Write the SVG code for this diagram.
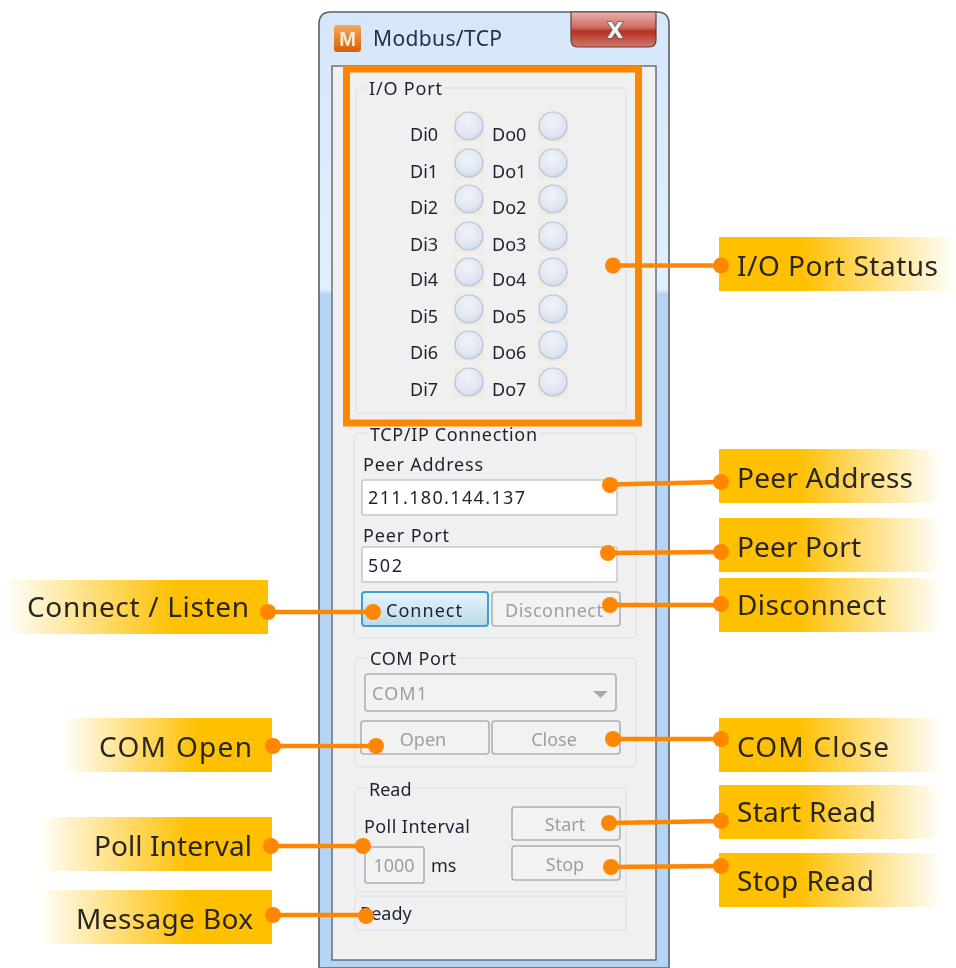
<svg xmlns="http://www.w3.org/2000/svg" width="956" height="968" viewBox="0 0 956 968">
<style>
.ui{font-family:"Noto Sans","Open Sans",sans-serif;font-size:18px;fill:#1c2233}
.dis{fill:#9a9ea6}
.mid{text-anchor:middle}
.tag{font-family:"Noto Sans","Open Sans",sans-serif;font-size:28px;fill:#2a2620}
.end{text-anchor:end}
.grp{fill:#f0f0f0;stroke:#dde5ec;stroke-width:1.5}
.inp{fill:#fff;stroke:#c4c6ca;stroke-width:1.5}
.btn{fill:#f2f2f2;stroke:#adb0b4;stroke-width:1.6}
.led{fill:url(#ledFill);stroke:#b4c2d8;stroke-width:1.2}
.bg{fill:#f0ecdf}
.wire{fill:none;stroke:#ff8605;stroke-width:4.5}
.dot{fill:#ff8605}
.lg{fill:#f0f0f0}
</style>
<defs>
<linearGradient id="chrome" x1="0" y1="0" x2="0" y2="1"><stop offset="0" stop-color="#d5e7fa"/><stop offset=".29" stop-color="#e2effc"/><stop offset=".295" stop-color="#b5d5f6"/><stop offset="1" stop-color="#b5d5f6"/></linearGradient>
<radialGradient id="ledFill" cx=".45" cy=".35" r=".7"><stop offset="0" stop-color="#f0f3f8"/><stop offset=".7" stop-color="#dfe6f2"/><stop offset="1" stop-color="#c6d3e8"/></radialGradient>
<linearGradient id="tagR" x1="0" y1="0" x2="1" y2="0"><stop offset="0" stop-color="#ffc000"/><stop offset=".35" stop-color="#ffc000"/><stop offset="1" stop-color="#ffc000" stop-opacity="0"/></linearGradient>
<linearGradient id="tagL" x1="1" y1="0" x2="0" y2="0"><stop offset="0" stop-color="#ffc000"/><stop offset=".35" stop-color="#ffc000"/><stop offset="1" stop-color="#ffc000" stop-opacity="0"/></linearGradient>
<linearGradient id="closeFill" x1="0" y1="0" x2="0" y2="1"><stop offset="0" stop-color="#e6b3ad"/><stop offset=".45" stop-color="#cf6a60"/><stop offset=".55" stop-color="#b62f22"/><stop offset="1" stop-color="#d07a6c"/></linearGradient>
<linearGradient id="iconFill" x1="0" y1="0" x2="0" y2="1"><stop offset="0" stop-color="#f7a85a"/><stop offset="1" stop-color="#d95c05"/></linearGradient>
<linearGradient id="connFill" x1="0" y1="0" x2="0" y2="1"><stop offset="0" stop-color="#e6f5fc"/><stop offset="1" stop-color="#bcd9e8"/></linearGradient>
<filter id="soft" x="-2%" y="-2%" width="104%" height="104%"><feGaussianBlur stdDeviation="0.45"/></filter>
</defs>
<rect width="956" height="968" fill="#fff"/>
<g filter="url(#soft)">
<g id="window">
<path d="M319 968V24Q319 12 331 12H657Q669 12 669 24V968Z" fill="url(#chrome)" stroke="#5c6066" stroke-width="1.6"/>
<rect x="332" y="66" width="324" height="894" fill="#f0f0f0" stroke="#5f6770" stroke-width="1.4"/>
<path d="M571 12V40Q571 47 578 47H649Q656 47 656 40V12Z" fill="url(#closeFill)" stroke="#6d3a36" stroke-width="1.2"/>
<text x="615" y="38" font-family="'DejaVu Sans',sans-serif" font-size="21" font-weight="700" fill="#f4f4f4" stroke="#5e5e5e" stroke-width="1.4" paint-order="stroke" text-anchor="middle">X</text>
<rect x="334" y="25" width="27" height="27" rx="3" fill="url(#iconFill)"/>
<text x="347.500" y="46" font-family="'Liberation Sans',sans-serif" font-size="20" font-weight="700" fill="#fde9d2" text-anchor="middle">M</text>
<text x="373" y="46" font-family="'Noto Sans',sans-serif" font-size="21" fill="#24304a" textLength="129">Modbus/TCP</text>
</g>
<g id="io-port">
<rect class="grp" x="356" y="88" width="270" height="325" rx="4"/>
<rect class="lg" x="366" y="80" width="78" height="16"/>
<text class="ui" x="369" y="95" textLength="73">I/O Port</text>
<g id="leds">
<rect class="bg" x="454" y="112" width="30" height="30"/><circle class="led" cx="469" cy="126" r="14"/>
<rect class="bg" x="538" y="112" width="30" height="30"/><circle class="led" cx="553" cy="126" r="14"/>
<rect class="bg" x="454" y="149" width="30" height="30"/><circle class="led" cx="469" cy="163" r="14"/>
<rect class="bg" x="538" y="149" width="30" height="30"/><circle class="led" cx="553" cy="163" r="14"/>
<rect class="bg" x="454" y="185" width="30" height="30"/><circle class="led" cx="469" cy="199" r="14"/>
<rect class="bg" x="538" y="185" width="30" height="30"/><circle class="led" cx="553" cy="199" r="14"/>
<rect class="bg" x="454" y="222" width="30" height="30"/><circle class="led" cx="469" cy="236" r="14"/>
<rect class="bg" x="538" y="222" width="30" height="30"/><circle class="led" cx="553" cy="236" r="14"/>
<rect class="bg" x="454" y="258" width="30" height="30"/><circle class="led" cx="469" cy="272" r="14"/>
<rect class="bg" x="538" y="258" width="30" height="30"/><circle class="led" cx="553" cy="272" r="14"/>
<rect class="bg" x="454" y="295" width="30" height="30"/><circle class="led" cx="469" cy="309" r="14"/>
<rect class="bg" x="538" y="295" width="30" height="30"/><circle class="led" cx="553" cy="309" r="14"/>
<rect class="bg" x="454" y="331" width="30" height="30"/><circle class="led" cx="469" cy="345" r="14"/>
<rect class="bg" x="538" y="331" width="30" height="30"/><circle class="led" cx="553" cy="345" r="14"/>
<rect class="bg" x="454" y="368" width="30" height="30"/><circle class="led" cx="469" cy="382" r="14"/>
<rect class="bg" x="538" y="368" width="30" height="30"/><circle class="led" cx="553" cy="382" r="14"/>
</g>
<text class="ui" x="410" y="141">Di0</text><text class="ui" x="492" y="141">Do0</text>
<text class="ui" x="410" y="178">Di1</text><text class="ui" x="492" y="178">Do1</text>
<text class="ui" x="410" y="214">Di2</text><text class="ui" x="492" y="214">Do2</text>
<text class="ui" x="410" y="251">Di3</text><text class="ui" x="492" y="251">Do3</text>
<text class="ui" x="410" y="286">Di4</text><text class="ui" x="492" y="286">Do4</text>
<text class="ui" x="410" y="323">Di5</text><text class="ui" x="492" y="323">Do5</text>
<text class="ui" x="410" y="359">Di6</text><text class="ui" x="492" y="359">Do6</text>
<text class="ui" x="410" y="396">Di7</text><text class="ui" x="492" y="396">Do7</text>
</g>
<g id="tcp-ip">
<rect class="grp" x="354" y="433" width="282" height="205" rx="4"/>
<rect class="lg" x="368" y="426" width="172" height="14"/>
<text class="ui" x="370" y="441" textLength="167">TCP/IP Connection</text>
<text class="ui" x="363" y="471" textLength="120">Peer Address</text>
<rect class="inp" x="362" y="480" width="255" height="35" rx="2"/>
<text class="ui" x="368" y="504" textLength="157">211.180.144.137</text>
<text class="ui" x="363" y="542" textLength="86">Peer Port</text>
<rect class="inp" x="362" y="547" width="255" height="35" rx="2"/>
<text class="ui" x="368" y="572" textLength="34">502</text>
<rect x="362" y="592" width="126" height="34" rx="3" fill="url(#connFill)" stroke="#3f9fd0" stroke-width="2"/>
<text class="ui" x="386" y="617" textLength="76">Connect</text>
<rect class="btn" x="492" y="592" width="128" height="34" rx="3"/>
<text class="ui dis" x="505" y="617" textLength="98">Disconnect</text>
</g>
<g id="com-port">
<rect class="grp" x="355" y="658" width="281" height="109" rx="4"/>
<rect class="lg" x="368" y="650" width="90" height="14"/>
<text class="ui" x="370" y="665" textLength="86">COM Port</text>
<rect class="btn" x="365" y="674" width="251" height="37" rx="3"/>
<text class="ui dis" x="372" y="700" textLength="55">COM1</text>
<path d="M593 691H608L600.500 698Z" fill="#a8a8a8"/>
<rect class="btn" x="361" y="721" width="128" height="33" rx="3"/>
<text class="ui dis mid" x="423" y="746">Open</text>
<rect class="btn" x="492" y="721" width="128" height="33" rx="3"/>
<text class="ui dis mid" x="554" y="746">Close</text>
</g>
<g id="read">
<rect class="grp" x="355" y="788" width="271" height="104" rx="4"/>
<rect class="lg" x="366" y="780" width="52" height="14"/>
<text class="ui" x="369" y="796">Read</text>
<text class="ui" x="364" y="833" textLength="106">Poll Interval</text>
<rect class="btn" x="365" y="847" width="59" height="36" rx="2"/>
<text class="ui dis mid" x="394" y="872">1000</text>
<text class="ui" x="431" y="872">ms</text>
<rect class="btn" x="512" y="807" width="108" height="33" rx="3"/>
<text class="ui dis mid" x="565" y="831">Start</text>
<rect class="btn" x="512" y="846" width="108" height="34" rx="3"/>
<text class="ui dis mid" x="565" y="871">Stop</text>
</g>
<g id="message-box">
<rect class="grp" x="355" y="896" width="271" height="34" rx="2"/>
<text class="ui" x="360" y="920">Ready</text>
</g>
<rect id="highlight" x="346.500" y="69" width="292" height="354" fill="none" stroke="#ff8605" stroke-width="7"/>
<g id="tag-io"><rect x="719" y="237" width="237" height="54" fill="url(#tagR)"/><text class="tag" x="737" y="276" textLength="201">I/O Port Status</text></g>
<g id="tag-peer-address"><rect x="719" y="449" width="224" height="54" fill="url(#tagR)"/><text class="tag" x="737" y="488" textLength="176">Peer Address</text></g>
<g id="tag-peer-port"><rect x="719" y="518" width="224" height="54" fill="url(#tagR)"/><text class="tag" x="737" y="557" textLength="124">Peer Port</text></g>
<g id="tag-disconnect"><rect x="719" y="578" width="224" height="54" fill="url(#tagR)"/><text class="tag" x="737" y="615" textLength="149">Disconnect</text></g>
<g id="tag-com-close"><rect x="719" y="718" width="224" height="54" fill="url(#tagR)"/><text class="tag" x="737" y="757" textLength="152">COM Close</text></g>
<g id="tag-start-read"><rect x="719" y="785" width="224" height="54" fill="url(#tagR)"/><text class="tag" x="737" y="822" textLength="139">Start Read</text></g>
<g id="tag-stop-read"><rect x="719" y="853" width="224" height="54" fill="url(#tagR)"/><text class="tag" x="737" y="891" textLength="137">Stop Read</text></g>
<g id="tag-connect"><rect x="4" y="580" width="264" height="54" fill="url(#tagL)"/><text class="tag" x="27" y="617" textLength="222">Connect / Listen</text></g>
<g id="tag-com-open"><rect x="62" y="718" width="210" height="54" fill="url(#tagL)"/><text class="tag" x="99" y="757" textLength="153">COM Open</text></g>
<g id="tag-poll"><rect x="38" y="817" width="234" height="54" fill="url(#tagL)"/><text class="tag" x="94" y="856" textLength="158">Poll Interval</text></g>
<g id="tag-message"><rect x="38" y="890" width="234" height="54" fill="url(#tagL)"/><text class="tag" x="76" y="929" textLength="177">Message Box</text></g>
<g id="connectors">
<path class="wire" d="M613 265.500H721"/><circle class="dot" cx="613" cy="265.500" r="8"/><circle class="dot" cx="721" cy="265.500" r="8"/>
<path class="wire" d="M610 484.500L721 482"/><circle class="dot" cx="610" cy="485" r="8"/><circle class="dot" cx="721" cy="482" r="8"/>
<path class="wire" d="M608 553L721 552"/><circle class="dot" cx="608" cy="553" r="8"/><circle class="dot" cx="721" cy="552" r="8"/>
<path class="wire" d="M610 605H721"/><circle class="dot" cx="610" cy="605" r="8"/><circle class="dot" cx="721" cy="604" r="8"/>
<path class="wire" d="M268 612H373"/><circle class="dot" cx="268" cy="612" r="8"/><circle class="dot" cx="373" cy="612" r="8"/>
<path class="wire" d="M273 746H376"/><circle class="dot" cx="273" cy="746" r="8"/><circle class="dot" cx="376" cy="746" r="8"/>
<path class="wire" d="M613 739H721"/><circle class="dot" cx="613" cy="739" r="8"/><circle class="dot" cx="721" cy="739" r="8"/>
<path class="wire" d="M609 823L721 821"/><circle class="dot" cx="609" cy="823" r="8"/><circle class="dot" cx="721" cy="821" r="8"/>
<path class="wire" d="M611 867L721 866"/><circle class="dot" cx="611" cy="867" r="8"/><circle class="dot" cx="721" cy="866" r="8"/>
<path class="wire" d="M271 846H363"/><circle class="dot" cx="271" cy="846" r="8"/><circle class="dot" cx="363" cy="846" r="8"/>
<path class="wire" d="M273 915H366"/><circle class="dot" cx="273" cy="915" r="8"/><circle class="dot" cx="366" cy="916" r="8"/>
</g>
</g>
</svg>
